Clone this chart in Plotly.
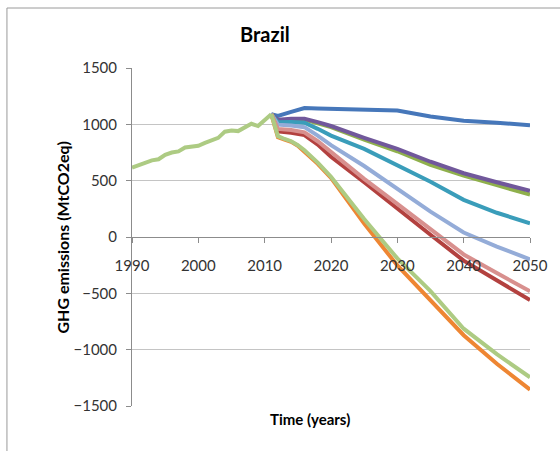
import plotly.graph_objects as go

# ---------------- data ----------------
hist_years = list(range(1990, 2012))
hist_values = [615, 635, 655, 680, 690, 730, 750, 760, 795, 805, 810,
               835, 860, 880, 935, 945, 940, 975, 1005, 985, 1040, 1090]

scen_years = [2011, 2012, 2014, 2016, 2018, 2020, 2025, 2030, 2035, 2040, 2045, 2050]
s_blue = [1090, 1075, 1110, 1145, 1140, 1137, 1130, 1122, 1070, 1032, 1015, 992]
s_purple = [1090, 1040, 1050, 1050, 1020, 985, 880, 782, 668, 566, 486, 410]
s_olive = [1090, 1030, 1040, 1042, 1010, 975, 865, 761, 640, 545, 460, 377]
s_teal = [1090, 1018, 1020, 1015, 960, 900, 782, 640, 490, 330, 215, 122]
s_lightblue = [1090, 997, 990, 975, 900, 815, 630, 425, 225, 40, -85, -198]
s_darkred = [1090, 938, 925, 905, 820, 712, 486, 250, 20, -210, -390, -560]
s_pink = [1090, 959, 950, 929, 850, 752, 516, 294, 75, -155, -320, -482]

fast_years = [2011, 2012, 2013, 2014, 2015, 2016, 2018, 2020, 2025, 2030, 2035, 2040, 2045, 2050]
s_orange = [1090, 885, 865, 845, 810, 760, 650, 525, 120, -253, -560, -872, -1125, -1355]
s_lightgreen = [1090, 895, 870, 850, 815, 770, 660, 535, 160, -190, -480, -814, -1040, -1245]

y_ticks = [-1500, -1000, -500, 0, 500, 1000, 1500]
x_ticks = [1990, 2000, 2010, 2020, 2030, 2040, 2050]

series = [
    ("blue", scen_years, s_blue, "#4677BA"),
    ("olive", scen_years, s_olive, "#8FB04C"),
    ("purple", scen_years, s_purple, "#71589B"),
    ("teal", scen_years, s_teal, "#3A9DBA"),
    ("lightblue", scen_years, s_lightblue, "#94ACD8"),
    ("darkred", scen_years, s_darkred, "#B3413F"),
    ("pink", scen_years, s_pink, "#D8908E"),
    ("orange", fast_years, s_orange, "#EE8633"),
    ("lightgreen", fast_years, s_lightgreen, "#ADCB83"),
    ("history", hist_years, hist_values, "#ADCB83"),
]

fig = go.Figure()
for name, xs, ys, col in series:
    fig.add_trace(go.Scatter(x=xs, y=ys, mode="lines", name=name,
                             line=dict(color=col, width=4),
                             showlegend=False, hoverinfo="skip"))

FONT = "Lato"
fig.update_layout(
    width=560, height=451,
    margin=dict(l=132, r=27, t=68, b=45),
    paper_bgcolor="white", plot_bgcolor="white",
    font=dict(family=FONT, size=15, color="#333333"),
    xaxis=dict(range=[1990, 2050], tickvals=x_ticks, ticktext=[str(v) for v in x_ticks],
               showgrid=False, zeroline=False, showline=True, linecolor="#8c8c8c",
               linewidth=1, ticks="outside", ticklen=5, tickcolor="#8c8c8c",
               anchor="free", position=0.5, ticklabelstandoff=10),
    yaxis=dict(range=[-1500, 1500], tickvals=y_ticks, showgrid=True,
               gridcolor="#c4c4c4", gridwidth=1, zeroline=False, showline=True,
               linecolor="#8c8c8c", linewidth=1, ticks="outside", ticklen=5,
               tickcolor="#8c8c8c", ticklabelstandoff=6),
)

# chart-area border (extends beyond the photographed window on right/bottom)
bx = (6 - 132) / 401
by = 1 + (68 - 8) / 338
fig.add_shape(type="line", xref="paper", yref="paper", x0=bx, x1=1.2, y0=by, y1=by,
              line=dict(color="#9a9a9a", width=1))
fig.add_shape(type="line", xref="paper", yref="paper", x0=bx, x1=bx, y0=by, y1=-0.3,
              line=dict(color="#9a9a9a", width=1))

fig.add_annotation(text="<b>Brazil</b>", xref="paper", yref="paper",
                   x=(266 - 132) / 401, y=1 + (68 - 34) / 338, showarrow=False,
                   xanchor="center", yanchor="middle",
                   font=dict(family=FONT, size=20, color="#000000"))
fig.add_annotation(text="<b>GHG emissions (MtCO2eq)</b>", xref="paper", yref="paper",
                   x=(61 - 132) / 401, y=1 - (238 - 68) / 338, showarrow=False,
                   textangle=-90, xanchor="center", yanchor="middle",
                   font=dict(family=FONT, size=16, color="#000000"))
fig.add_annotation(text="<b>Time (years)</b>", xref="paper", yref="paper",
                   x=(311 - 132) / 401, y=1 - (419 - 68) / 338, showarrow=False,
                   xanchor="center", yanchor="middle",
                   font=dict(family=FONT, size=15, color="#000000"))

fig.write_html("out.html", config={"displayModeBar": False, "staticPlot": True},
               post_script="document.body.style.margin='0';document.body.style.overflow='hidden';")
